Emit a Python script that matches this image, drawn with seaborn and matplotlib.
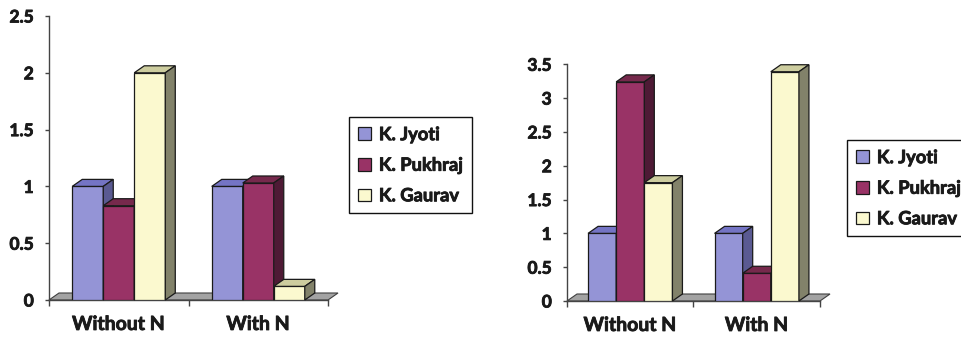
import numpy as np
import pandas as pd
import matplotlib
matplotlib.use("Agg")
import matplotlib.pyplot as plt
import matplotlib.patheffects as pe
import seaborn as sns
from matplotlib.patches import Polygon, Patch

# ---- data ----
categories = ["Without N", "With N"]
varieties = ["K. Jyoti", "K. Pukhraj", "K. Gaurav"]

left_jyoti = [1.0, 1.0]
left_pukhraj = [0.83, 1.03]
left_gaurav = [2.0, 0.12]
left_ticks = [0, 0.5, 1, 1.5, 2, 2.5]
left_tick_labels = ["0", "0.5", "1", "1.5", "2", "2.5"]

right_jyoti = [1.0, 1.0]
right_pukhraj = [3.24, 0.41]
right_gaurav = [1.75, 3.39]
right_ticks = [0, 0.5, 1, 1.5, 2, 2.5, 3, 3.5]
right_tick_labels = ["0", "0.5", "1", "1.5", "2", "2.5", "3", "3.5"]

# ---- styling ----
front_colors = ["#9494d6", "#993366", "#fbf9cf"]
top_colors = ["#7474c4", "#76294c", "#cdcd9f"]
side_colors = ["#5a5a92", "#4e1a35", "#82826a"]
edge = "#1a1a1a"
floor_color = "#a3a3a3"
FONT = ["Lato", "DejaVu Sans"]
WEIGHT = "bold"
text_color = "#1a1a1a"
heavy = [pe.withStroke(linewidth=0.6, foreground=text_color)]

sns.set_theme(style="white")
plt.rcParams["font.family"] = FONT

W, H = 962, 337
fig = plt.figure(figsize=(W / 100, H / 100), dpi=100)

DEPTH_X_PX = 10
DEPTH_Y_PX = 7


def px_axes(x0, x1, y_top, y_bot):
    return fig.add_axes([x0 / W, (H - y_bot) / H, (x1 - x0) / W, (y_bot - y_top) / H])


def draw_panel(ax, jy, pu, ga, ymax, ticks, tick_labels):
    df = pd.DataFrame({
        "Treatment": categories * 3,
        "Variety": np.repeat(varieties, len(categories)),
        "Value": list(jy) + list(pu) + list(ga),
    })
    sns.barplot(data=df, x="Treatment", y="Value", hue="Variety",
                hue_order=varieties, order=categories,
                palette=front_colors, saturation=1, width=0.667,
                errorbar=None, legend=False, ax=ax,
                edgecolor=edge, linewidth=0.9)
    ax.set_xlim(-0.5, len(categories) - 0.5)
    ax.set_ylim(0, ymax)
    ax.set_xlabel("")
    ax.set_ylabel("")

    bbox = ax.get_position()
    w_px = bbox.width * W
    h_px = bbox.height * H
    dx = DEPTH_X_PX * (len(categories)) / w_px
    dy = DEPTH_Y_PX * ymax / h_px

    # floor of the 3D plot
    x_lo, x_hi = -0.5, len(categories) - 0.5
    floor = Polygon([(x_lo, 0), (x_hi, 0), (x_hi + dx, dy), (x_lo + dx, dy)],
                    closed=True, facecolor=floor_color, edgecolor="#404040",
                    linewidth=0.8, zorder=1, clip_on=False)
    ax.add_patch(floor)

    # top and side faces for each column, drawn left to right
    bars = []
    for cont, ti, si in zip(ax.containers, top_colors, side_colors):
        for p in cont:
            bars.append((p, ti, si))
    bars.sort(key=lambda b: b[0].get_x())
    for i, (p, tc, sc) in enumerate(bars):
        x0, w, h = p.get_x(), p.get_width(), p.get_height()
        z = 3 + i
        p.set_zorder(z)
        top = Polygon([(x0, h), (x0 + w, h), (x0 + w + dx, h + dy), (x0 + dx, h + dy)],
                      closed=True, facecolor=tc, edgecolor=edge, linewidth=0.9,
                      zorder=z, clip_on=False)
        side = Polygon([(x0 + w, 0), (x0 + w + dx, dy), (x0 + w + dx, h + dy), (x0 + w, h)],
                       closed=True, facecolor=sc, edgecolor=edge, linewidth=0.9,
                       zorder=z, clip_on=False)
        ax.add_patch(top)
        ax.add_patch(side)

    # axes, ticks and labels
    for s in ["top", "right"]:
        ax.spines[s].set_visible(False)
    for s in ["left", "bottom"]:
        ax.spines[s].set_color("#444444")
        ax.spines[s].set_linewidth(1.0)
        ax.spines[s].set_zorder(2.5)
    ax.set_yticks(ticks)
    ax.set_yticklabels(tick_labels, fontsize=12.5, fontweight=WEIGHT, color=text_color)
    ax.set_xticks(np.arange(-0.5, len(categories)))
    ax.set_xticklabels([""] * (len(categories) + 1))
    ax.set_xticks(np.arange(len(categories)), minor=True)
    ax.set_xticklabels(categories, minor=True, fontsize=14, fontweight=WEIGHT,
                       color=text_color)
    for t in ax.get_yticklabels() + ax.get_xticklabels(minor=True):
        t.set_path_effects(heavy)
    ax.tick_params(axis="y", direction="out", length=3, width=1, color="#444444",
                   pad=8, left=True)
    ax.tick_params(axis="x", which="major", direction="out", length=4, width=1,
                   color="#444444", bottom=True)
    ax.tick_params(axis="x", which="minor", length=0, pad=11.5)
    ax.grid(False)
    ax.set_facecolor("none")


ax1 = px_axes(49, 328, 16, 300)
draw_panel(ax1, left_jyoti, left_pukhraj, left_gaurav, 2.5, left_ticks, left_tick_labels)

ax2 = px_axes(567, 820, 64.3, 301)
draw_panel(ax2, right_jyoti, right_pukhraj, right_gaurav, 3.5, right_ticks, right_tick_labels)

handles = [Patch(facecolor=c, edgecolor=edge, linewidth=0.9) for c in front_colors]


def add_legend(x_px, y_px):
    leg = fig.legend(handles, varieties, loc="upper left",
                     bbox_to_anchor=(x_px / W, (H - y_px) / H),
                     bbox_transform=fig.transFigure,
                     prop={"family": FONT, "weight": WEIGHT, "size": 13.2},
                     frameon=True, fancybox=False, framealpha=1,
                     handlelength=0.68, handleheight=0.68, handletextpad=0.45,
                     labelspacing=0.74, borderpad=0.5, borderaxespad=0)
    fr = leg.get_frame()
    fr.set_edgecolor("#111111")
    fr.set_linewidth(1.0)
    for t in leg.get_texts():
        t.set_color(text_color)
        t.set_path_effects(heavy)
    return leg


add_legend(349, 117)
add_legend(847, 140)

fig.savefig("out.png", dpi=100)
